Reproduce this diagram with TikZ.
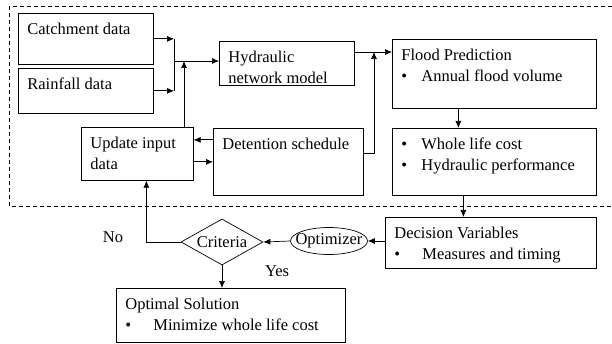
\documentclass[tikz,border=0pt]{standalone}
\usepackage{fontspec}
\setmainfont{Liberation Serif}
\usetikzlibrary{arrows.meta,shapes.geometric}

\newcommand{\cell}[3]{\parbox[c][#2][t]{#1}{\vspace*{6pt}\strut #3}}
\newcommand{\itm}[2][20pt]{\makebox[#1][l]{\textbullet}#2}

\begin{document}
\begin{tikzpicture}[x=1pt, y=-1pt,
  font=\fontsize{16.5}{21}\selectfont, line width=0.7pt,
  >={Latex[length=7pt,width=6pt]},
  blk/.style={draw, anchor=north west, inner xsep=9pt, inner ysep=0pt},
  oval/.style={draw, ellipse, inner xsep=-7pt, inner ysep=1pt,
    minimum width=77pt, minimum height=27pt},
  crit/.style={draw, diamond, inner sep=0pt, aspect=1.78,
    minimum width=82pt, minimum height=46pt}]
\useasboundingbox (0,0) rectangle (612,344);
\draw[dash pattern=on 4pt off 3pt, line width=0.6pt] (9,6) rectangle (625,206);

\node[blk] (catch)  at (18,13)   {\cell{117pt}{51pt}{Catchment data}};
\node[blk] (rain)   at (18,68)   {\cell{117pt}{45pt}{Rainfall data}};
\node[blk] (update) at (81,127)  {\cell{94pt}{53pt}{Update input\\ data}};
\node[blk] (hydro)  at (219,41)  {\cell{117pt}{44pt}{Hydraulic\\ network model}};
\node[blk] (deten)  at (213,128) {\cell{132pt}{67pt}{Detention schedule}};
\node[blk] (flood)  at (392,39)  {\cell{186pt}{69pt}{Flood Prediction\\ \itm{Annual flood volume}}};
\node[blk] (whole)  at (392,128) {\cell{186pt}{67pt}{\itm{Whole life cost}\\ \itm{Hydraulic performance}}};
\node[blk] (decis)  at (385,217) {\cell{193pt}{51pt}{Decision Variables\\ \itm[28pt]{Measures and timing}}};
\node[blk] (optim)  at (116,288) {\cell{211pt}{54pt}{Optimal Solution\\ \itm[28pt]{Minimize whole life cost}}};
\node[oval] (opt)   at (329,241) {Optimizer};
\node[crit] (crit)  at (222,242) {Criteria};
\node (no)  at (113,237) {No};
\node (yes) at (277,271) {Yes};

% junctions
\coordinate (jn)  at (174,61);
\coordinate (upj) at (184,61);
\coordinate (fj)  at (374,52);

% inputs to the model
\draw[->] (catch.east) -- (catch.east -| jn);
\draw[->] (rain.east) -- (rain.east -| jn);
\draw (catch.east -| jn) -- (rain.east -| jn);
\draw[->] (jn) -- (jn -| hydro.west);
\draw[->] (upj |- update.north) -- (upj);

% model to prediction
\draw[->] (hydro.east |- fj) -- (flood.west |- fj);
\draw[->] ([yshift=8pt]deten.east) -| (fj);
\draw[<-] ([yshift=14pt]update.east) -- ([yshift=14pt]update.east -| deten.west);
\draw[->] ([yshift=-8pt]update.east) -- ([yshift=-8pt]update.east -| deten.west);
\draw[->] ([xshift=-36pt]flood.south) -- ([xshift=-36pt]flood.south |- whole.north);
\draw[->] ([xshift=-31pt]whole.south) -- ([xshift=-31pt]whole.south |- decis.north);

% optimisation loop
\draw[->] (opt.east -| decis.west) -- (opt.east);
\draw[->] (opt.west) -- (crit.east);
\draw[->] (crit.west) -| ([xshift=9pt]update.south);
\draw[->] (crit.south) -- (crit.south |- optim.north);
\end{tikzpicture}
\end{document}
